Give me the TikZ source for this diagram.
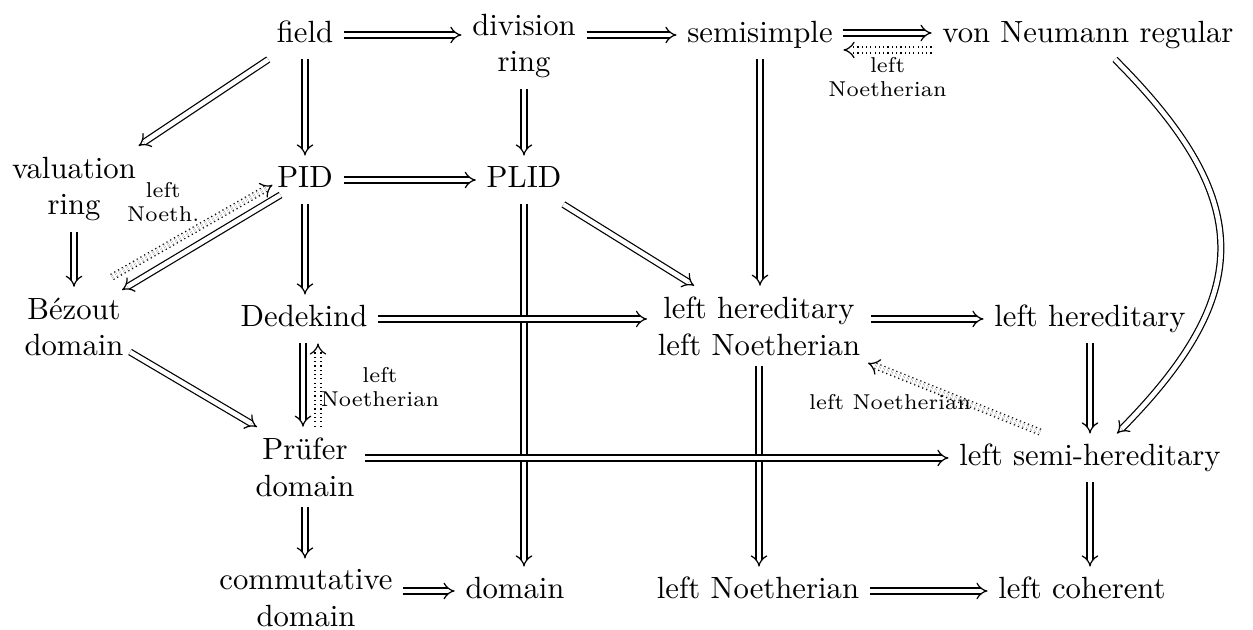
\documentclass[tikz,border=0pt]{standalone}
\usetikzlibrary{arrows.meta}
\begin{document}
\begin{tikzpicture}[x=0.3257pt, y=-0.3257pt,
  sobj/.style={text height=6.94pt, text depth=1.94pt, inner sep=3.33pt},
  mobj/.style={align=center, inner sep=3.33pt},
  imp/.style={double, double distance=1.5pt, line width=0.4pt, -{Implies}},
  dimp/.style={double, double distance=1.5pt, line width=0.4pt, dash pattern=on 0.4pt off 1pt, -{Implies}},
  lbl/.style={font=\scriptsize, align=center, inner sep=1pt}]
\useasboundingbox (0,0) rectangle (1253,630);
% row 1
\node[sobj] (field) at (305,35) {field};
\node[mobj] (dr) at (524,46) {division\\ring};
\node[sobj] (ss) at (760,35) {semisimple};
\node[sobj] (vnr) at (1088,35) {von Neumann regular};
% row 2
\node[mobj] (val) at (74,189) {valuation\\ring};
\node[sobj] (PID) at (305,180) {PID};
\node[sobj] (PLID) at (524,180) {PLID};
% row 3
\node[mobj] (bez) at (74,327) {B\'ezout\\domain};
\node[sobj] (ded) at (304,319) {Dedekind};
\node[mobj] (lhln) at (759,326) {left hereditary\\left Noetherian};
\node[sobj] (lh) at (1090,319) {left hereditary};
% row 4
\node[mobj] (pru) at (305,467) {Pr\"ufer\\domain};
\node[sobj] (lsh) at (1090,458) {left semi-hereditary};
% row 5
\node[mobj] (cd) at (306,598) {commutative\\domain};
\node[sobj] (dom) at (515,591) {domain};
\node[sobj] (ln) at (758,591) {left Noetherian};
\node[sobj] (lc) at (1082,591) {left coherent};

% row 1 arrows
\draw[imp] (field) -- (field -| dr.west);
\draw[imp] (field -| dr.east) -- (ss);
\draw[imp] ([shift={(0,-2)}]ss.east) -- ([shift={(0,-2)}]vnr.west);
\draw[dimp] ([shift={(0,15)}]vnr.west) -- ([shift={(0,15)}]ss.east)
  node[lbl, midway, shift={(0,27)}] {left\\Noetherian};
% downward from row 1
\draw[imp] (field) -- (val);
\draw[imp] (field) -- (PID);
\draw[imp] (dr) -- (PLID);
\draw[imp] (ss.south) -- (ss.south |- lhln.north);
\draw[imp] ([shift={(27,0)}]vnr.south) .. controls +(140,140) and +(138,-140) .. ([shift={(27,0)}]lsh.north);
% row 2
\draw[imp] (PID) -- (PLID);
\draw[imp] (val) -- (val |- bez.north);
\draw[imp] ([shift={(-24.5,15)}]PID.center) -- ([shift={(48,-37)}]bez.center);
\draw[dimp] ([shift={(38,-50)}]bez.center) -- ([shift={(-32.5,5)}]PID.center)
  node[lbl, midway, shift={(-29,-29)}] {left\\Noeth.};
\draw[imp] (PID) -- (PID |- ded.north);
\draw[imp] (PLID) -- (lhln);
\draw[imp] (PLID) -- (PLID |- dom.north);
% row 3
\draw[imp] (ded) -- (ded -| lhln.west);
\draw[imp] (lh -| lhln.east) -- (lh);
\draw[imp] ([shift={(-1,0)}]ded.south) -- ([shift={(-1,0)}]ded.south |- pru.north);
\draw[dimp] ([shift={(14,0)}]ded.south |- pru.north) -- ([shift={(14,0)}]ded.south)
  node[lbl, midway, shift={(62,2)}] {left\\Noetherian};
\draw[imp] ([shift={(56,25)}]bez.center) -- ([shift={(-48,-40)}]pru.center);
\draw[imp] (lhln) -- (lhln |- ln.north);
\draw[imp] (lh) -- (lsh);
% row 4
\draw[dimp] ([shift={(-50,-26)}]lsh.center) -- ([shift={(109,37)}]lhln.center)
  node[lbl, midway, shift={(-64,4.5)}] {left Noetherian};
\draw[imp] (lsh -| pru.east) -- (lsh);
\draw[imp] (pru) -- (pru |- cd.north);
\draw[imp] (lsh) -- (lsh |- lc.north);
% row 5
\draw[imp] (dom -| cd.east) -- (dom);
\draw[imp] (ln) -- (lc);
\end{tikzpicture}
\end{document}
